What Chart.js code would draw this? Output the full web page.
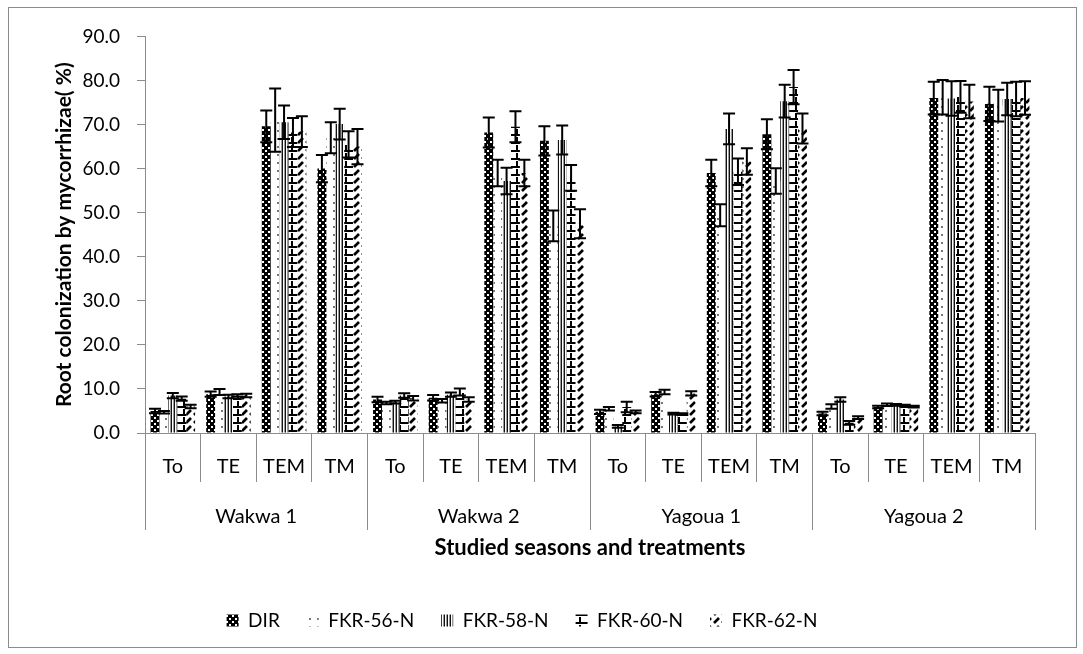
<!DOCTYPE html>
<html>
<head>
<meta charset="utf-8">
<script src="https://cdn.jsdelivr.net/npm/chart.js@4.4.0/dist/chart.umd.min.js"></script>
<style>
  body { margin: 0; background: #fff; }
  #frame { position: absolute; left: 8px; top: 7px; width: 1067px; height: 639px; border: 1px solid #8c8c8c; }
</style>
</head>
<body>
<div id="frame"><canvas id="myChart" width="1067" height="639"></canvas></div>
<script>
const treatments = ['To', 'TE', 'TEM', 'TM', 'To', 'TE', 'TEM', 'TM', 'To', 'TE', 'TEM', 'TM', 'To', 'TE', 'TEM', 'TM'];
const seasons = ['Wakwa 1', 'Wakwa 2', 'Yagoua 1', 'Yagoua 2'];
const yTicks = [0, 10, 20, 30, 40, 50, 60, 70, 80, 90];

const dirValues   = [5.0, 8.8, 69.6, 60.0, 7.6, 8.0, 68.2, 66.3, 4.8, 8.8, 59.0, 67.8, 4.4, 5.9, 76.0, 74.7];
const dirErrors   = [0.5, 0.6, 3.6, 3.1, 0.6, 0.6, 3.4, 3.3, 0.5, 0.5, 3.0, 3.4, 0.4, 0.3, 3.7, 3.9];
const fkr56Values = [4.7, 9.3, 71.0, 67.0, 6.8, 7.3, 59.0, 47.0, 5.5, 9.3, 49.4, 57.2, 6.0, 6.4, 76.2, 74.3];
const fkr56Errors = [0.3, 0.7, 7.2, 3.5, 0.3, 0.4, 3.0, 3.5, 0.4, 0.5, 2.5, 2.9, 0.5, 0.3, 3.9, 3.6];
const fkr58Values = [8.5, 8.3, 70.5, 70.1, 7.0, 8.7, 57.2, 66.5, 1.5, 4.4, 69.0, 75.3, 7.6, 6.4, 75.9, 75.8];
const fkr58Errors = [0.6, 0.4, 3.8, 3.5, 0.3, 0.5, 3.0, 3.3, 0.3, 0.2, 3.5, 3.7, 0.5, 0.2, 3.9, 3.7];
const fkr60Values = [7.8, 8.5, 68.2, 65.5, 8.5, 9.3, 69.5, 57.9, 5.9, 4.3, 59.3, 78.5, 2.3, 6.2, 76.3, 75.8];
const fkr60Errors = [0.5, 0.3, 3.3, 3.0, 0.5, 0.8, 3.5, 2.9, 1.2, 0.2, 3.0, 3.9, 0.4, 0.2, 3.6, 3.9];
const fkr62Values = [6.0, 8.5, 68.4, 65.0, 7.9, 7.6, 59.0, 47.5, 4.8, 9.0, 61.6, 69.1, 3.5, 6.0, 75.2, 76.0];
const fkr62Errors = [0.4, 0.4, 3.5, 4.0, 0.5, 0.5, 3.0, 3.3, 0.3, 0.5, 3.0, 3.4, 0.3, 0.2, 3.8, 3.8];

// small tiles used as bar fills
function makePattern(w, h, draw) {
    const c = document.createElement('canvas');
    c.width = w;
    c.height = h;
    const g = c.getContext('2d');
    g.fillStyle = '#fff';
    g.fillRect(0, 0, w, h);
    draw(g);
    return g.createPattern(c, 'repeat');
}

const dotsDark = makePattern(6, 6, g => {
    g.fillStyle = '#000';
    g.fillRect(0, 0, 6, 6);
    g.fillStyle = '#fff';
    g.fillRect(1, 1, 2, 2);
    g.fillRect(4, 4, 2, 2);
});
const dotsLight = makePattern(8, 8, g => {
    g.fillStyle = '#777';
    g.fillRect(4, 2, 2, 2);
});
const vStripes = makePattern(3, 2, g => {
    g.fillStyle = '#111';
    g.fillRect(0, 0, 1, 2);
    g.fillStyle = '#999';
    g.fillRect(2, 0, 1, 2);
});
const bricks = makePattern(9, 8, g => {
    g.fillStyle = '#000';
    g.fillRect(0, 6, 9, 2);
    g.fillRect(3, 1, 2, 5);
});
const slashes = makePattern(8, 8, g => {
    g.strokeStyle = '#000';
    g.lineWidth = 2.6;
    g.beginPath();
    g.moveTo(1, 7);
    g.lineTo(6, 2);
    g.stroke();
});

const errorBars = {
    id: 'errorBars',
    afterDatasetsDraw(chart) {
        const ctx = chart.ctx;
        const y = chart.scales.y;
        ctx.save();
        ctx.strokeStyle = '#000';
        ctx.lineWidth = 2;
        chart.data.datasets.forEach((ds, i) => {
            const meta = chart.getDatasetMeta(i);
            meta.data.forEach((bar, j) => {
                const top = y.getPixelForValue(ds.data[j] + ds.errors[j]);
                const bot = y.getPixelForValue(ds.data[j] - ds.errors[j]);
                ctx.beginPath();
                ctx.moveTo(bar.x, top);
                ctx.lineTo(bar.x, bot);
                ctx.moveTo(bar.x - 6, top);
                ctx.lineTo(bar.x + 6, top);
                ctx.moveTo(bar.x - 6, bot);
                ctx.lineTo(bar.x + 6, bot);
                ctx.stroke();
            });
        });
        ctx.restore();
    }
};

const font = 'Lato';
const axisGrey = '#8c8c8c';

const ctx = document.getElementById('myChart').getContext('2d');
const myChart = new Chart(ctx, {
    type: 'bar',
    data: {
        labels: treatments,
        datasets: [
            { label: 'DIR', data: dirValues, errors: dirErrors, backgroundColor: dotsDark },
            { label: 'FKR-56-N', data: fkr56Values, errors: fkr56Errors, backgroundColor: dotsLight },
            { label: 'FKR-58-N', data: fkr58Values, errors: fkr58Errors, backgroundColor: vStripes },
            { label: 'FKR-60-N', data: fkr60Values, errors: fkr60Errors, backgroundColor: bricks },
            { label: 'FKR-62-N', data: fkr62Values, errors: fkr62Errors, backgroundColor: slashes }
        ]
    },
    options: {
        responsive: false,
        animation: false,
        categoryPercentage: 0.8,
        barPercentage: 1.0,
        layout: { padding: { top: 27, right: 41, left: 0, bottom: 7 } },
        plugins: {
            tooltip: { enabled: false },
            legend: {
                position: 'bottom',
                labels: {
                    color: '#000',
                    font: { family: font, size: 19 },
                    boxWidth: 12,
                    boxHeight: 12,
                    padding: 27
                }
            }
        },
        scales: {
            y: {
                min: 0,
                max: 90,
                afterBuildTicks: scale => { scale.ticks = yTicks.map(v => ({ value: v })); },
                afterFit: scale => { scale.width = 136; },
                grid: { drawOnChartArea: false, tickLength: 8, color: axisGrey },
                border: { color: axisGrey },
                ticks: {
                    color: '#000',
                    padding: 17,
                    font: { family: font, size: 19 },
                    callback: v => v.toFixed(1)
                },
                title: {
                    display: true,
                    text: 'Root colonization by mycorrhizae( %)',
                    color: '#000',
                    font: { family: font, size: 21, weight: 'bold' },
                    padding: { top: 43, bottom: 0 }
                }
            },
            x: {
                afterFit: scale => { scale.height = 49; },
                grid: { offset: true, drawOnChartArea: false, tickLength: 49, color: axisGrey },
                border: { color: axisGrey },
                ticks: {
                    color: '#000',
                    autoSkip: false,
                    maxRotation: 0,
                    padding: -27,
                    font: { family: font, size: 20 }
                }
            },
            x2: {
                type: 'category',
                position: 'bottom',
                labels: seasons,
                afterFit: scale => { scale.height = 102; },
                grid: { offset: true, drawOnChartArea: false, tickLength: 48, color: axisGrey },
                border: { display: false },
                ticks: {
                    color: '#000',
                    maxRotation: 0,
                    padding: -25,
                    font: { family: font, size: 20 }
                },
                title: {
                    display: true,
                    text: 'Studied seasons and treatments',
                    color: '#000',
                    font: { family: font, size: 22, weight: 'bold' },
                    padding: { top: 0, bottom: 23 }
                }
            }
        }
    },
    plugins: [errorBars]
});
</script>
</body>
</html>
